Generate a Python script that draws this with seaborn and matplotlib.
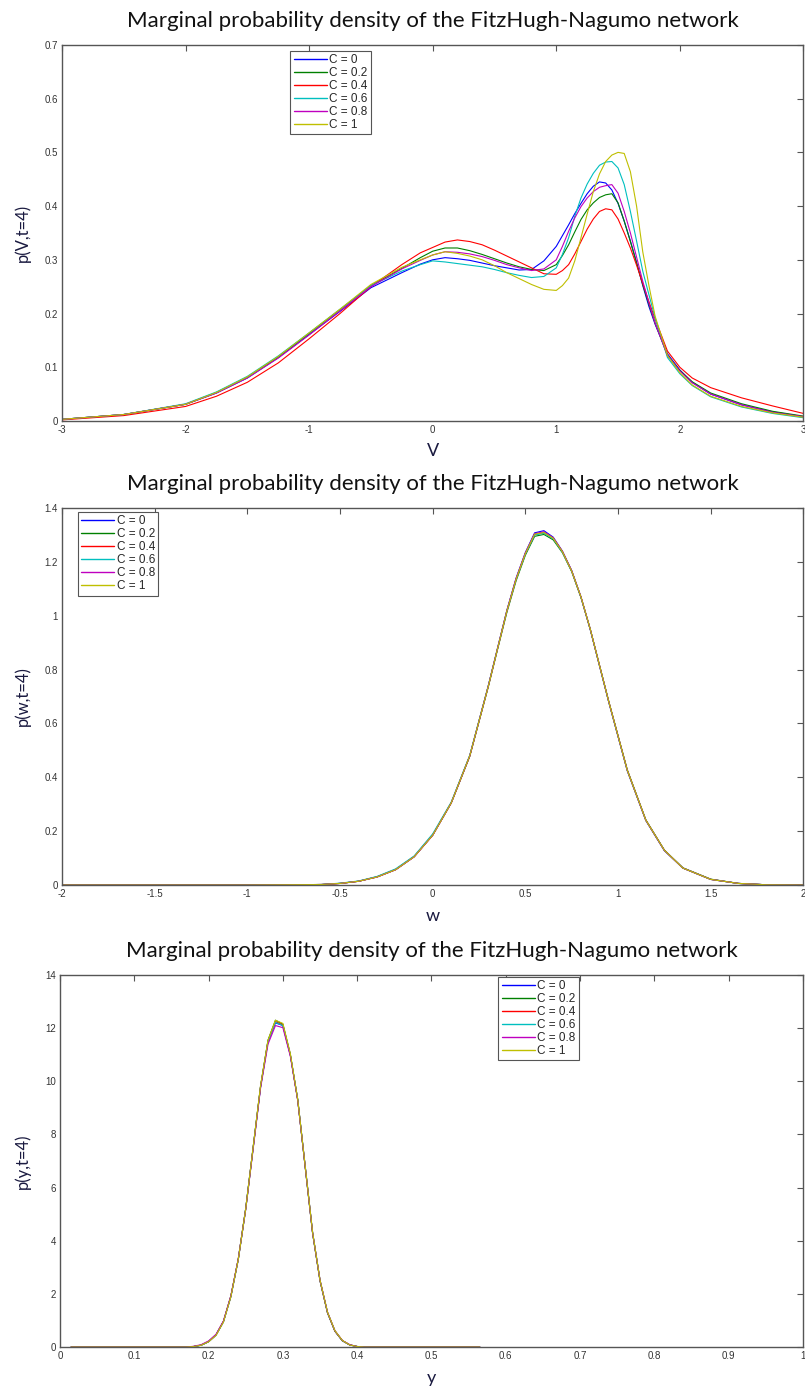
import pandas as pd
import matplotlib
matplotlib.use('Agg')
import matplotlib.pyplot as plt
import seaborn as sns

# coupling strengths and MATLAB-style colour order
C_LABELS = ['C = 0', 'C = 0.2', 'C = 0.4', 'C = 0.6', 'C = 0.8', 'C = 1']
C_COLORS = ['#0000ff', '#008000', '#ff0000', '#00bfbf', '#bf00bf', '#bfbf00']

TITLE = 'Marginal probability density of the FitzHugh-Nagumo network'

# ---- panel 1: p(V, t=4) ----
V_X = [-3.0, -2.5, -2.0, -1.75, -1.5, -1.25, -1.0, -0.75, -0.5, -0.25, -0.1, 0.0, 0.1, 0.2,
       0.3, 0.4, 0.5, 0.6, 0.7, 0.8, 0.9, 1.0, 1.05, 1.1, 1.15, 1.2, 1.25, 1.3, 1.35, 1.4,
       1.45, 1.5, 1.55, 1.6, 1.65, 1.7, 1.75, 1.8, 1.9, 2.0, 2.1, 2.25, 2.5, 2.75, 3.0]
V_C0 = [0.003, 0.012, 0.031, 0.052, 0.080, 0.118, 0.161, 0.204, 0.248, 0.276, 0.292, 0.300, 0.304, 0.302,
        0.299, 0.294, 0.289, 0.285, 0.281, 0.282, 0.298, 0.325, 0.345, 0.365, 0.386, 0.405, 0.423, 0.437, 0.445, 0.443,
        0.430, 0.405, 0.372, 0.335, 0.295, 0.252, 0.213, 0.180, 0.125, 0.095, 0.072, 0.050, 0.030, 0.017, 0.008]
V_C02 = [0.003, 0.012, 0.031, 0.053, 0.081, 0.119, 0.163, 0.207, 0.252, 0.284, 0.304, 0.316, 0.322, 0.322,
         0.317, 0.310, 0.302, 0.294, 0.287, 0.282, 0.280, 0.291, 0.308, 0.328, 0.352, 0.375, 0.393, 0.406, 0.416, 0.421,
         0.423, 0.406, 0.372, 0.334, 0.294, 0.254, 0.217, 0.182, 0.122, 0.094, 0.073, 0.052, 0.032, 0.018, 0.009]
V_C04 = [0.002, 0.010, 0.027, 0.046, 0.072, 0.108, 0.153, 0.200, 0.250, 0.291, 0.313, 0.323, 0.333, 0.337,
         0.334, 0.328, 0.318, 0.307, 0.296, 0.285, 0.274, 0.273, 0.280, 0.291, 0.311, 0.334, 0.357, 0.376, 0.390, 0.395,
         0.393, 0.376, 0.350, 0.322, 0.290, 0.256, 0.222, 0.190, 0.130, 0.100, 0.080, 0.062, 0.043, 0.028, 0.014]
V_C06 = [0.003, 0.012, 0.032, 0.054, 0.083, 0.121, 0.164, 0.208, 0.252, 0.279, 0.291, 0.298, 0.296, 0.293,
         0.290, 0.287, 0.282, 0.276, 0.271, 0.267, 0.269, 0.285, 0.310, 0.341, 0.381, 0.415, 0.441, 0.461, 0.476, 0.482,
         0.483, 0.471, 0.440, 0.390, 0.335, 0.279, 0.235, 0.192, 0.118, 0.088, 0.066, 0.045, 0.026, 0.014, 0.006]
V_C08 = [0.003, 0.012, 0.031, 0.052, 0.080, 0.117, 0.160, 0.205, 0.250, 0.283, 0.299, 0.309, 0.315, 0.314,
         0.311, 0.306, 0.299, 0.291, 0.285, 0.280, 0.283, 0.300, 0.325, 0.353, 0.378, 0.399, 0.415, 0.427, 0.435, 0.438,
         0.440, 0.424, 0.390, 0.350, 0.305, 0.260, 0.220, 0.182, 0.122, 0.093, 0.071, 0.050, 0.030, 0.016, 0.008]
V_C1 = [0.003, 0.012, 0.031, 0.053, 0.082, 0.120, 0.164, 0.208, 0.254, 0.286, 0.300, 0.309, 0.315, 0.312,
        0.307, 0.300, 0.289, 0.276, 0.265, 0.254, 0.245, 0.243, 0.252, 0.266, 0.298, 0.341, 0.385, 0.427, 0.460, 0.483,
        0.495, 0.500, 0.498, 0.464, 0.400, 0.315, 0.252, 0.195, 0.122, 0.090, 0.067, 0.046, 0.027, 0.015, 0.007]

# ---- panel 2: p(w, t=4) ----
W_X = [-2.0, -1.0, -0.6, -0.5, -0.4, -0.3, -0.2, -0.1, 0.0, 0.1, 0.2, 0.3, 0.35, 0.4, 0.45, 0.5,
       0.55, 0.6, 0.65, 0.7, 0.75, 0.8, 0.85, 0.95, 1.05, 1.15, 1.25, 1.35, 1.5, 1.65, 1.8, 2.0]
W_C0 = [0.0, 0.0, 0.002, 0.006, 0.014, 0.030, 0.057, 0.105, 0.185, 0.305, 0.480, 0.740, 0.880, 1.020, 1.140, 1.235,
        1.308, 1.316, 1.292, 1.240, 1.168, 1.070, 0.950, 0.680, 0.425, 0.240, 0.128, 0.063, 0.021, 0.006, 0.001, 0.0]
W_C02 = [0.0, 0.0, 0.002, 0.006, 0.014, 0.031, 0.058, 0.106, 0.186, 0.305, 0.478, 0.736, 0.875, 1.012, 1.130, 1.225,
         1.295, 1.302, 1.282, 1.234, 1.164, 1.068, 0.950, 0.682, 0.428, 0.242, 0.130, 0.064, 0.022, 0.006, 0.001, 0.0]
W_C04 = [0.0, 0.0, 0.002, 0.006, 0.014, 0.030, 0.057, 0.105, 0.185, 0.305, 0.479, 0.738, 0.878, 1.017, 1.136, 1.231,
         1.302, 1.309, 1.288, 1.238, 1.166, 1.069, 0.950, 0.681, 0.426, 0.241, 0.129, 0.063, 0.021, 0.006, 0.001, 0.0]
W_C06 = [0.0, 0.0, 0.002, 0.007, 0.015, 0.032, 0.060, 0.108, 0.190, 0.308, 0.482, 0.740, 0.879, 1.017, 1.135, 1.229,
         1.300, 1.306, 1.286, 1.236, 1.165, 1.068, 0.949, 0.679, 0.424, 0.240, 0.128, 0.063, 0.021, 0.006, 0.001, 0.0]
W_C08 = [0.0, 0.0, 0.002, 0.006, 0.014, 0.030, 0.057, 0.105, 0.185, 0.305, 0.480, 0.739, 0.879, 1.018, 1.138, 1.233,
         1.305, 1.312, 1.290, 1.239, 1.167, 1.070, 0.950, 0.680, 0.425, 0.240, 0.128, 0.063, 0.021, 0.006, 0.001, 0.0]
W_C1 = [0.0, 0.0, 0.002, 0.006, 0.014, 0.030, 0.057, 0.105, 0.185, 0.305, 0.480, 0.738, 0.878, 1.017, 1.136, 1.231,
        1.303, 1.309, 1.288, 1.238, 1.166, 1.070, 0.951, 0.681, 0.426, 0.241, 0.129, 0.063, 0.021, 0.006, 0.001, 0.0]

# ---- panel 3: p(y, t=4) ----
Y_X = [0.015, 0.035, 0.17, 0.18, 0.19, 0.20, 0.21, 0.22, 0.23, 0.24, 0.25, 0.26, 0.27, 0.28,
       0.29, 0.30, 0.31, 0.32, 0.33, 0.34, 0.35, 0.36, 0.37, 0.38, 0.39, 0.40, 0.41, 0.565]
Y_C0 = [0.0, 0.0, 0.0, 0.02, 0.07, 0.20, 0.45, 0.95, 1.90, 3.30, 5.20, 7.50, 9.80, 11.50,
        12.20, 12.10, 11.00, 9.30, 6.80, 4.30, 2.50, 1.30, 0.60, 0.24, 0.08, 0.02, 0.0, 0.0]
Y_C02 = [0.0, 0.0, 0.0, 0.02, 0.07, 0.21, 0.46, 0.97, 1.92, 3.32, 5.22, 7.52, 9.82, 11.55,
         12.30, 12.15, 11.02, 9.30, 6.78, 4.28, 2.49, 1.29, 0.60, 0.24, 0.08, 0.02, 0.0, 0.0]
Y_C04 = [0.0, 0.0, 0.0, 0.02, 0.07, 0.20, 0.45, 0.96, 1.91, 3.31, 5.21, 7.51, 9.81, 11.52,
         12.25, 12.12, 11.00, 9.30, 6.80, 4.30, 2.50, 1.30, 0.60, 0.24, 0.08, 0.02, 0.0, 0.0]
Y_C06 = [0.0, 0.0, 0.0, 0.02, 0.07, 0.20, 0.45, 0.95, 1.90, 3.30, 5.20, 7.50, 9.80, 11.50,
         12.22, 12.10, 11.00, 9.32, 6.82, 4.32, 2.51, 1.31, 0.61, 0.24, 0.08, 0.02, 0.0, 0.0]
Y_C08 = [0.0, 0.0, 0.0, 0.03, 0.09, 0.23, 0.48, 0.98, 1.93, 3.32, 5.18, 7.45, 9.75, 11.40,
         12.10, 12.02, 10.95, 9.28, 6.80, 4.30, 2.52, 1.32, 0.62, 0.25, 0.09, 0.02, 0.0, 0.0]
Y_C1 = [0.0, 0.0, 0.0, 0.02, 0.07, 0.20, 0.44, 0.94, 1.89, 3.30, 5.20, 7.52, 9.85, 11.55,
        12.30, 12.18, 11.05, 9.32, 6.82, 4.32, 2.52, 1.32, 0.62, 0.25, 0.08, 0.02, 0.0, 0.0]


def long_frame(xs, series):
    rows = []
    for label, ys in zip(C_LABELS, series):
        for x, y in zip(xs, ys):
            rows.append({'x': x, 'p': y, 'C': label})
    return pd.DataFrame(rows)


sns.set_theme(style='white')
plt.rcParams['font.family'] = ['Liberation Sans', 'DejaVu Sans']

fig = plt.figure(figsize=(8.05, 13.87), dpi=100)

panels = [
    # data, xlim, xticks, ylim, yticks, xlabel, ylabel, axes rect, legend anchor
    (long_frame(V_X, [V_C0, V_C02, V_C04, V_C06, V_C08, V_C1]),
     (-3, 3), [-3, -2, -1, 0, 1, 2, 3], (0, 0.7), [0, 0.1, 0.2, 0.3, 0.4, 0.5, 0.6, 0.7],
     'V', 'p(V,t=4)', [0.077, 0.6965, 0.921, 0.2711], (0.308, 0.985)),
    (long_frame(W_X, [W_C0, W_C02, W_C04, W_C06, W_C08, W_C1]),
     (-2, 2), [-2, -1.5, -1, -0.5, 0, 0.5, 1, 1.5, 2], (0, 1.4), [0, 0.2, 0.4, 0.6, 0.8, 1, 1.2, 1.4],
     'w', 'p(w,t=4)', [0.077, 0.3619, 0.921, 0.2718], (0.021, 0.99)),
    (long_frame(Y_X, [Y_C0, Y_C02, Y_C04, Y_C06, Y_C08, Y_C1]),
     (0, 1), [0, 0.1, 0.2, 0.3, 0.4, 0.5, 0.6, 0.7, 0.8, 0.9, 1], (0, 14), [0, 2, 4, 6, 8, 10, 12, 14],
     'y', 'p(y,t=4)', [0.0745, 0.0288, 0.923, 0.2682], (0.59, 0.996)),
]

for df, xlim, xticks, ylim, yticks, xlab, ylab, rect, anchor in panels:
    ax = fig.add_axes(rect)
    sns.lineplot(data=df, x='x', y='p', hue='C', palette=C_COLORS, linewidth=0.8,
                 sort=False, estimator=None, ax=ax)
    ax.set_xlim(*xlim)
    ax.set_ylim(*ylim)
    ax.set_xticks(xticks)
    ax.set_yticks(yticks)
    ax.set_xticklabels([f'{t:g}' for t in xticks])
    ax.set_yticklabels([f'{t:g}' for t in yticks])
    ax.tick_params(direction='in', length=4, width=0.8, top=True, right=True,
                   labelsize=7, labelcolor='#333333', color='#555555', pad=3)
    for sp in ax.spines.values():
        sp.set_color('#555555')
        sp.set_linewidth(1.0)
    ax.set_title(TITLE, fontsize=16, family=['Lato', 'DejaVu Sans'], color='#111111', pad=13)
    ax.set_xlabel(xlab, fontsize=13, family=['Lato', 'DejaVu Sans'], color='#1a1a40', labelpad=6)
    ax.set_ylabel(ylab, fontsize=12, family=['Lato', 'DejaVu Sans'], color='#1a1a40', labelpad=10)
    leg = ax.legend(loc='upper left', bbox_to_anchor=anchor, fontsize=8.5, frameon=True,
                    fancybox=False, framealpha=1, edgecolor='#555555', handlelength=2.8,
                    labelspacing=0.08, borderpad=0.3, handletextpad=0.2, borderaxespad=0)
    leg.get_frame().set_linewidth(0.8)
    for line in leg.get_lines():
        line.set_linewidth(1.0)

fig.savefig('out.png', dpi=100)
plt.close(fig)
